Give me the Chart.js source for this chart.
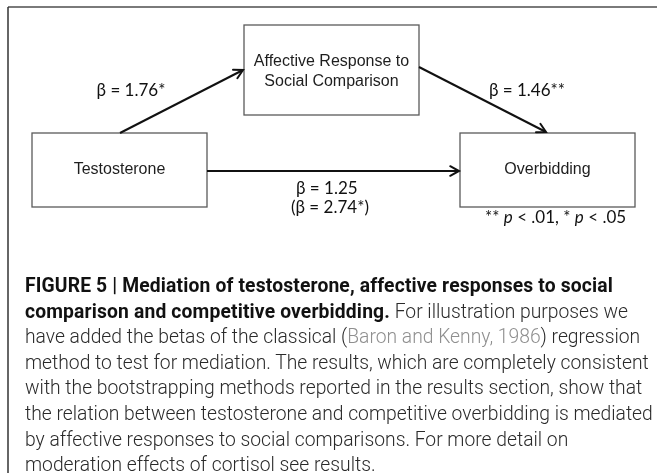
<!DOCTYPE html>
<html>
<head>
<meta charset="utf-8">
<script src="https://cdn.jsdelivr.net/npm/chart.js@4/dist/chart.umd.min.js"></script>
<style>
  html, body { margin: 0; padding: 0; background: #fff; }
  #wrap { position: relative; width: 657px; height: 473px; overflow: hidden; }
  #c { position: absolute; left: 0; top: 0; }
  #caption {
    position: absolute; left: 25px; top: 273px; width: 632px;
    font-family: Roboto, "Liberation Sans", sans-serif; font-size: 19.3px;
    line-height: 25.6px; color: #2a2a2a; white-space: nowrap; font-weight: 300;
  }
  #caption b { font-weight: 700; color: #111; letter-spacing: 0.15px; }
  #caption .ref { color: #8f8f8f; }
</style>
</head>
<body>
<div id="wrap">
  <canvas id="c" width="657" height="473"></canvas>
  <div id="caption">
    <b>FIGURE 5 | Mediation of testosterone, affective responses to social</b><br>
    <b>comparison and competitive overbidding.</b> For illustration purposes we<br>
    have added the betas of the classical (<span class="ref">Baron and Kenny, 1986</span>) regression<br>
    method to test for mediation. The results, which are completely consistent<br>
    with the bootstrapping methods reported in the results section, show that<br>
    the relation between testosterone and competitive overbidding is mediated<br>
    by affective responses to social comparisons. For more detail on<br>
    moderation effects of cortisol see results.
  </div>
</div>
<script>
// ---- data ----
const nodeNames = ["Testosterone", "Affective Response to\nSocial Comparison", "Overbidding"];
const pathNames = ["a (Testosterone → Affective Response)", "b (Affective Response → Overbidding)", "c' (Testosterone → Overbidding)"];
const betas = [1.76, 1.46, 1.25];
const betaStars = ["*", "**", ""];
const totalBeta = 2.74;
const totalStars = "*";
const noteText = ["** ", "p", " < .01, * ", "p", " < .05"];

// ---- layout (in the chart's own data units, x: 0..657, y: 0..473 downward) ----
const boxes = [
  { x0: 32, y0: 133, x1: 207, y1: 207 },
  { x0: 244, y0: 25, x1: 419, y1: 115 },
  { x0: 460, y0: 133, x1: 635, y1: 207 }
];
const arrows = [
  [{ x: 120, y: 133 }, { x: 243, y: 70 }],
  [{ x: 419, y: 67 }, { x: 546, y: 132 }],
  [{ x: 207, y: 171 }, { x: 459, y: 171 }]
];
const betaLabelPos = [
  { x: 131, y: 91, align: "center" },
  { x: 527, y: 91, align: "center" },
  { x: 296, y: 189, align: "left" }
];
const totalLabelPos = { x: 291, y: 208 };
const notePos = { x: 485, y: 218 };

const frame = { left: 8, top: 7, right: 657, bottom: 473 };

const diagramPlugin = {
  id: "diagram",
  beforeDatasetsDraw(chart) {
    const ctx = chart.ctx, xs = chart.scales.x, ys = chart.scales.y;
    const X = v => xs.getPixelForValue(v), Y = v => ys.getPixelForValue(v);
    ctx.save();
    // outer frame (top and left only)
    ctx.strokeStyle = "#7a7a7a"; ctx.lineWidth = 2;
    ctx.beginPath(); ctx.moveTo(X(frame.left), Y(frame.top)); ctx.lineTo(X(frame.right), Y(frame.top)); ctx.stroke();
    ctx.strokeStyle = "#333"; ctx.lineWidth = 1.5;
    ctx.beginPath(); ctx.moveTo(X(frame.left), Y(frame.top)); ctx.lineTo(X(frame.left), Y(frame.bottom)); ctx.stroke();
    // boxes
    ctx.strokeStyle = "#5a5a5a"; ctx.lineWidth = 1.3;
    boxes.forEach(b => {
      ctx.strokeRect(X(b.x0), Y(b.y0), X(b.x1) - X(b.x0), Y(b.y1) - Y(b.y0));
    });
    // node text
    ctx.fillStyle = "#1e1e1e";
    ctx.font = "16px 'Liberation Sans', Arial, sans-serif";
    ctx.textAlign = "center"; ctx.textBaseline = "middle";
    nodeNames.forEach((name, i) => {
      const b = boxes[i];
      const lines = name.split("\n");
      const cx = X((b.x0 + b.x1) / 2);
      const cy = i === 1 ? Y(b.y0) + 46.7 : Y((b.y0 + b.y1) / 2);
      const lh = 20;
      lines.forEach((ln, k) => {
        ctx.fillText(ln, cx, cy - (lines.length - 1) * lh / 2 + k * lh);
      });
    });
    ctx.restore();
  },
  afterDatasetsDraw(chart) {
    const ctx = chart.ctx, xs = chart.scales.x, ys = chart.scales.y;
    const X = v => xs.getPixelForValue(v), Y = v => ys.getPixelForValue(v);
    ctx.save();
    // arrowheads
    ctx.strokeStyle = "#111"; ctx.lineWidth = 2; ctx.lineCap = "round";
    chart.data.datasets.forEach(ds => {
      const p0 = ds.data[0], p1 = ds.data[ds.data.length - 1];
      const x0 = X(p0.x), y0 = Y(p0.y), x1 = X(p1.x), y1 = Y(p1.y);
      const ang = Math.atan2(y1 - y0, x1 - x0), L = 10, a = 0.5;
      ctx.beginPath();
      ctx.moveTo(x1 - L * Math.cos(ang - a), y1 - L * Math.sin(ang - a));
      ctx.lineTo(x1, y1);
      ctx.lineTo(x1 - L * Math.cos(ang + a), y1 - L * Math.sin(ang + a));
      ctx.stroke();
    });
    // beta labels
    ctx.fillStyle = "#111";
    ctx.font = "17px Lato, 'Open Sans', sans-serif";
    ctx.textBaseline = "middle";
    betas.forEach((b, i) => {
      const p = betaLabelPos[i];
      ctx.textAlign = p.align;
      ctx.fillText("β = " + b.toFixed(2) + betaStars[i], X(p.x), Y(p.y));
    });
    ctx.textAlign = "left";
    ctx.fillText("(β = " + totalBeta.toFixed(2) + totalStars + ")", X(totalLabelPos.x), Y(totalLabelPos.y));
    // significance note
    let nx = X(notePos.x);
    noteText.forEach((t, k) => {
      ctx.font = (t === "p" ? "italic " : "") + "17px Lato, 'Open Sans', sans-serif";
      ctx.fillText(t, nx, Y(notePos.y));
      nx += ctx.measureText(t).width;
    });
    ctx.restore();
  }
};

new Chart(document.getElementById("c"), {
  type: "scatter",
  data: {
    datasets: arrows.map((pts, i) => ({
      label: pathNames[i],
      data: pts,
      showLine: true,
      borderColor: "#111",
      borderWidth: 2,
      pointRadius: 0,
      fill: false
    }))
  },
  options: {
    responsive: false,
    animation: false,
    layout: { padding: 0 },
    plugins: { legend: { display: false }, tooltip: { enabled: false } },
    scales: {
      x: { type: "linear", min: 0, max: 657, display: false },
      y: { type: "linear", min: 0, max: 473, reverse: true, display: false }
    }
  },
  plugins: [diagramPlugin]
});
</script>
</body>
</html>
